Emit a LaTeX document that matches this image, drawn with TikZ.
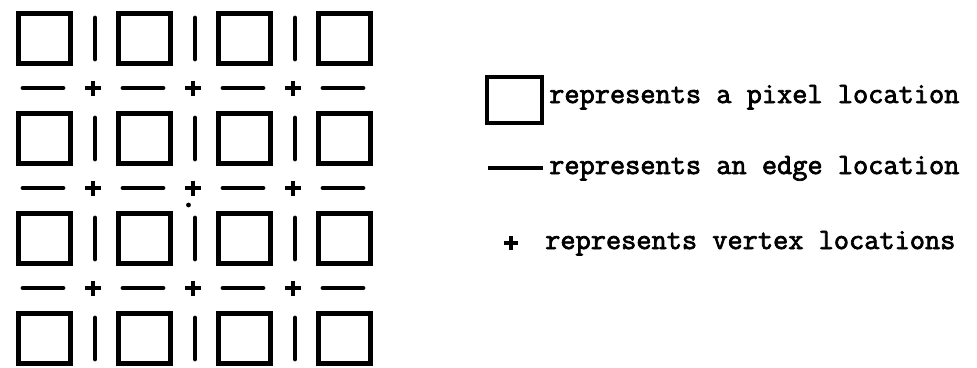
\documentclass[tikz,border=0pt]{standalone}
\usepackage{fontspec}
\newfontfamily\legendfont{Latin Modern Mono}[FakeBold=2.5]
\begin{document}
\begin{tikzpicture}[x=1pt,y=-1pt,
  pixel/.style={draw,line width=5pt,minimum width=52pt,minimum height=50pt,inner sep=0pt,outer sep=0pt},
  edgemark/.style={line width=4.8pt,line cap=round},
  thinedge/.style={line width=3.2pt},
  vtxmark/.style={line width=4.8pt},
  legendtext/.style={anchor=base west,inner sep=0pt,font=\legendfont\fontsize{29.5pt}{32pt}\selectfont}]
\useasboundingbox (0,0) rectangle (977,367);
% 4x4 grid of pixel locations
\foreach \i in {0,1,2,3}{
  \foreach \j in {0,1,2,3}{
    \node[pixel] (p\i\j) at (44.5+100*\i,38.5+100*\j) {};
  }
}
% vertical edge locations between pixels in a row
\foreach \i in {0,1,2}{
  \foreach \j in {0,1,2,3}{
    \draw[edgemark] (95+100*\i,18+100*\j) -- (95+100*\i,59+100*\j);
  }
}
% horizontal edge locations between rows
\foreach \i in {0,1,2,3}{
  \foreach \j in {0,1,2}{
    \draw[edgemark] (23+100*\i,88+100*\j) -- (63+100*\i,88+100*\j);
  }
}
% vertex locations
\foreach \i in {0,1,2}{
  \foreach \j in {0,1,2}{
    \draw[vtxmark] (85+100*\i,88+100*\j) -- (101+100*\i,88+100*\j)
                   (93+100*\i,80.5+100*\j) -- (93+100*\i,95.5+100*\j);
  }
}
% small stray dot
\fill (188.5,205) circle (2.4pt);
% legend
\node[pixel,minimum width=55pt,minimum height=46pt,line width=3.8pt] (lp) at (514.5,100) {};
\node[legendtext] (t1) at (549,103) {represents a pixel location};
\coordinate (le1) at (488,168);
\coordinate (le2) at (543,168);
\draw[thinedge] (le1) -- (le2);
\node[legendtext] (t2) at (549,174) {represents an edge location};
\draw[vtxmark,line width=4pt] (504,243) -- (518,243) (511,236) -- (511,250);
\node[legendtext] (t3) at (545,249) {represents vertex locations};
\end{tikzpicture}
\end{document}
